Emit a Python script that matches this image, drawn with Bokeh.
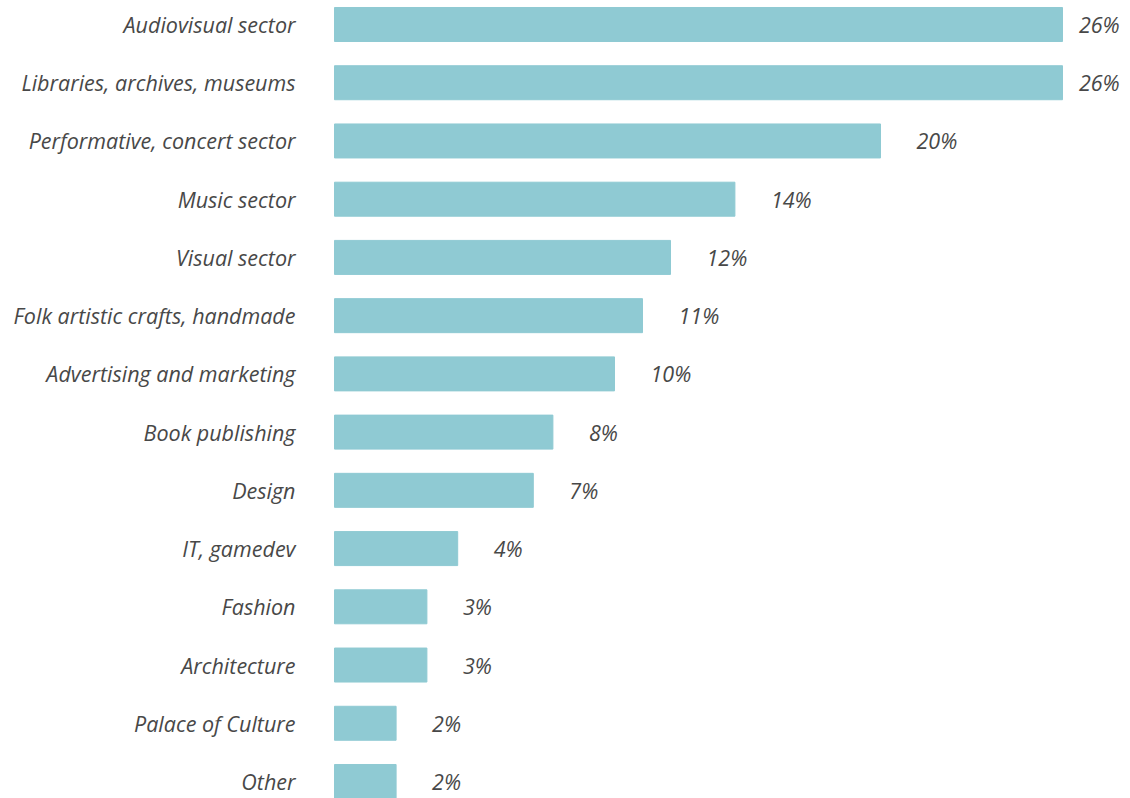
import numpy as np
from bokeh.plotting import figure
from bokeh.models import ColumnDataSource, Range1d
from bokeh.core.properties import value
from bokeh.embed import file_html
from bokeh.resources import INLINE

categories = ["Audiovisual sector", "Libraries, archives, museums", "Performative, concert sector",
              "Music sector", "Visual sector", "Folk artistic crafts, handmade",
              "Advertising and marketing", "Book publishing", "Design", "IT, gamedev",
              "Fashion", "Architecture", "Palace of Culture", "Other"]
values = [26.0, 26.0, 19.5, 14.3, 12.0, 11.0, 10.0, 7.8, 7.1, 4.4, 3.3, 3.3, 2.2, 2.2]
labels = ["26%", "26%", "20%", "14%", "12%", "11%", "10%", "8%", "7%", "4%", "3%", "3%", "2%", "2%"]

n = len(categories)
ys = list(range(n))
vals = np.array(values)
label_x = np.minimum(vals, 25.3)

src = ColumnDataSource(dict(y=ys, v=values, cat=categories, lab=labels, lx=label_x))

W, H = 1130, 798
step = 58.23
px_per_unit = 28.0
zero_px = 334
p = figure(width=W, height=H, output_backend="svg", toolbar_location=None,
           x_range=Range1d(-zero_px / px_per_unit, (W - zero_px) / px_per_unit),
           y_range=Range1d(n - 1 + 17 / step, -24 / step),
           min_border=0, outline_line_color=None)
p.axis.visible = False
p.grid.visible = False
p.background_fill_color = "white"
p.border_fill_color = "white"

p.hbar(y="y", left=0, right="v", height=0.584, color="#8fcad3", source=src)

font = value("Open Sans")
p.text(x=0, y="y", text="cat", source=src, text_align="right", text_baseline="middle",
       x_offset=-39, text_font=font, text_font_style="italic", text_font_size="21.5px",
       text_color="#484848")
p.text(x="lx", y="y", text="lab", source=src, text_align="left", text_baseline="middle",
       x_offset=36, text_font=font, text_font_style="italic", text_font_size="21.5px",
       text_color="#484848")

open("out.html", "w").write(file_html(p, INLINE))
